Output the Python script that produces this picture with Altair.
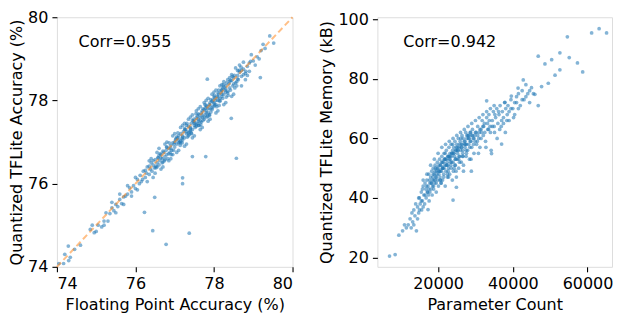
import altair as alt
import pandas as pd

# ---------------- Left panel: accuracy ----------------
fp_acc = [
    74.05, 74.2, 74.3, 74.45, 74.6, 74.85, 74.95, 75.05, 75.2, 75.25, 75.35, 75.4, 75.45, 75.5, 75.55,
    75.6, 75.65, 75.7, 75.75, 75.8, 75.85, 75.9, 75.95, 76.0, 76.05, 76.1, 76.12, 76.18, 76.2, 76.25,
    76.28, 76.3, 76.35, 76.38, 76.4, 76.42, 76.45, 76.48, 76.5, 76.52, 76.55, 76.58, 76.6, 76.62, 76.65,
    76.68, 76.7, 76.72, 76.75, 76.78, 76.8, 76.82, 76.85, 76.88, 76.9, 76.92, 76.95, 76.98, 77.0, 77.02,
    77.05, 77.08, 77.1, 77.12, 77.15, 77.18, 77.2, 77.22, 77.25, 77.28, 77.3, 77.32, 77.35, 77.38, 77.4,
    77.42, 77.45, 77.48, 77.5, 77.52, 77.55, 77.58, 77.6, 77.62, 77.65, 77.68, 77.7, 77.72, 77.75, 77.78,
    77.8, 77.82, 77.85, 77.88, 77.9, 77.92, 77.95, 77.98, 78.0, 78.02, 78.05, 78.08, 78.1, 78.12, 78.15,
    78.18, 78.2, 78.22, 78.25, 78.28, 78.3, 78.35, 78.38, 78.4, 78.45, 78.48, 78.5, 78.55, 78.6, 78.62,
    78.65, 78.7, 78.75, 78.8, 78.85, 78.9, 79.0, 79.1, 79.2, 79.3,
    76.6, 76.7, 76.85, 76.95, 77.05, 77.15, 77.25, 77.35, 77.45, 77.55, 77.6, 77.65, 77.7, 77.75, 77.8,
    77.85, 77.9, 77.95, 78.0, 78.05, 78.1, 78.15, 78.2, 78.25, 78.3, 78.4, 78.5, 78.6, 78.7, 78.75,
    77.5, 77.4, 77.3, 77.2, 77.1, 77.0, 76.9, 76.8, 76.75, 76.65, 76.55, 76.45, 76.35, 76.25, 76.15,
    77.62, 77.82, 77.92, 78.02, 78.12, 78.22, 78.32, 78.42, 78.52, 78.58, 77.42, 77.58, 77.68, 77.78, 77.88,
    76.3, 76.4, 76.5, 76.6, 76.7, 76.8, 76.9, 77.0, 77.1, 77.2, 77.3, 77.4, 77.5, 77.6, 77.7,
    77.8, 77.9, 78.0, 78.1, 78.2, 78.3, 78.4, 78.5, 78.6, 78.7, 78.8, 78.9, 78.55, 78.45, 78.35,
    78.25, 78.15, 78.05, 77.95, 77.85, 77.75, 77.65, 77.55, 77.45, 77.35, 77.25, 77.15, 77.05, 76.95, 76.85,
    76.75, 76.65, 76.55, 76.45, 76.35,
    77.1, 77.2, 77.3, 77.4, 77.5, 77.6, 77.7, 77.8, 77.9, 78.0, 78.1, 78.2, 78.3, 77.15, 77.35,
    77.55, 77.75, 77.95, 78.15, 78.35, 77.25, 77.45, 77.65, 77.85, 78.05, 78.25, 78.45, 78.65, 78.75, 78.85,
    78.95, 79.05, 79.15, 79.25,
    76.52, 76.63, 76.74, 76.86, 76.97, 77.08, 77.19, 77.31, 77.43, 77.54, 77.66, 77.77, 77.89, 78.01, 78.13,
    78.24, 78.36, 78.47, 78.58, 78.69,
    76.57, 76.68, 76.79, 76.91, 77.03, 77.14, 77.26, 77.37, 77.49, 77.61, 77.72, 77.84, 77.96, 78.07, 78.19,
    78.31, 78.42, 78.53, 78.64, 78.81,
    75.3, 75.5, 75.7, 75.9, 76.05, 75.4, 75.6, 75.8, 76.0, 75.2, 75.0, 74.9,
    77.37, 76.78, 76.44, 76.23, 76.49, 77.2, 77.2, 77.45, 77.79, 78.57, 78.44, 77.83, 79.18, 78.93, 79.52,
    79.42, 74.29, 74.34, 74.17, 75.14,
]
q_acc = [
    74.08, 74.3, 74.15, 74.42, 74.52, 74.9, 74.82, 75.0, 75.1, 75.3, 75.28, 75.42, 75.35, 75.5, 75.45,
    75.62, 75.52, 75.68, 75.7, 75.75, 75.9, 75.8, 75.95, 75.88, 76.1, 76.0, 76.2, 76.1, 76.3, 76.15,
    76.25, 76.4, 76.22, 76.35, 76.5, 76.3, 76.45, 76.38, 76.58, 76.42, 76.5, 76.62, 76.45, 76.55, 76.7,
    76.6, 76.52, 76.75, 76.65, 76.8, 76.7, 76.6, 76.85, 76.75, 76.92, 76.8, 76.7, 76.95, 76.88, 77.05,
    76.95, 77.1, 76.98, 77.0, 77.2, 77.08, 77.15, 77.25, 77.1, 77.3, 77.2, 77.12, 77.38, 77.25, 77.35,
    77.45, 77.3, 77.5, 77.4, 77.35, 77.58, 77.45, 77.55, 77.65, 77.5, 77.7, 77.6, 77.52, 77.78, 77.65,
    77.75, 77.85, 77.7, 77.9, 77.8, 77.72, 77.98, 77.85, 77.95, 78.05, 77.9, 78.1, 78.0, 78.15, 78.05,
    78.2, 78.1, 78.3, 78.15, 78.25, 78.35, 78.22, 78.4, 78.3, 78.48, 78.35, 78.55, 78.42, 78.6, 78.5,
    78.68, 78.58, 78.75, 78.65, 78.82, 78.9, 78.95, 79.05, 79.2, 79.25,
    76.68, 76.78, 76.72, 76.98, 77.12, 77.02, 77.32, 77.22, 77.52, 77.42, 77.68, 77.58, 77.75, 77.6, 77.88,
    77.8, 77.95, 77.82, 78.08, 78.0, 78.18, 78.0, 78.25, 78.32, 78.2, 78.45, 78.4, 78.52, 78.72, 78.62,
    77.45, 77.28, 77.4, 77.05, 77.15, 77.0, 76.85, 76.88, 76.58, 76.62, 76.4, 76.55, 76.42, 76.32, 76.05,
    77.4, 77.6, 78.02, 77.88, 78.25, 78.05, 78.42, 78.25, 78.6, 78.45, 77.22, 77.62, 77.48, 77.82, 77.65,
    76.05, 76.6, 76.25, 76.85, 76.4, 77.0, 76.6, 77.2, 76.8, 77.4, 76.95, 77.6, 77.15, 77.8, 77.35,
    78.0, 77.55, 78.2, 77.75, 78.38, 77.95, 78.55, 78.15, 78.72, 78.35, 78.5, 78.7, 78.78, 78.1, 78.5,
    77.9, 78.35, 77.7, 78.15, 77.5, 77.95, 77.3, 77.75, 77.1, 77.55, 76.9, 77.35, 76.75, 77.15, 76.55,
    76.95, 76.35, 76.75, 76.15, 76.55,
    77.05, 77.12, 77.25, 77.32, 77.48, 77.5, 77.65, 77.7, 77.88, 77.92, 78.08, 78.15, 78.28, 76.98, 77.15,
    77.38, 77.55, 77.78, 77.98, 78.18, 77.45, 77.65, 77.85, 78.05, 78.25, 78.45, 78.62, 78.85, 78.92, 78.6,
    79.1, 78.85, 79.0, 79.35,
    76.38, 76.72, 76.55, 76.98, 76.8, 77.22, 76.98, 77.45, 77.2, 77.68, 77.42, 77.9, 77.65, 78.12, 77.88,
    78.38, 78.12, 78.58, 78.35, 78.8,
    76.62, 76.5, 76.88, 76.7, 77.08, 76.92, 77.3, 77.18, 77.55, 77.4, 77.8, 77.62, 78.0, 77.85, 78.25,
    78.08, 78.48, 78.3, 78.72, 78.7,
    75.1, 75.3, 75.5, 75.7, 75.85, 75.55, 75.75, 75.95, 76.15, 75.0, 74.85, 75.0,
    74.81, 74.54, 74.87, 75.31, 75.67, 76.0, 76.14, 76.65, 76.65, 76.61, 77.57, 78.51, 78.55, 78.94, 79.38,
    79.55, 74.5, 74.23, 74.08, 74.96,
]
diag = [74, 80]

# ---------------- Right panel: memory ----------------
params_k = [
    12.0, 12.5, 13.0, 13.2, 13.5, 13.8, 14.0, 14.2, 14.5, 14.8, 15.0, 15.2, 15.5, 15.6, 15.8, 16.0, 16.2,
    16.4, 16.5, 16.7, 16.8, 17.0, 17.1, 17.3, 17.5, 17.6, 17.8, 18.0, 18.1, 18.3, 18.4, 18.5, 18.7, 18.8,
    19.0, 19.1, 19.2, 19.4, 19.5, 19.6, 19.8, 19.9, 20.0, 20.1, 20.2, 20.4, 20.5, 20.6, 20.8, 20.9, 21.0,
    21.1, 21.2, 21.4, 21.5, 21.6, 21.8, 21.9, 22.0, 22.1, 22.2, 22.4, 22.5, 22.6, 22.8, 22.9, 23.0, 23.1,
    23.2, 23.4, 23.5, 23.6, 23.8, 23.9, 24.0, 24.1, 24.2, 24.4, 24.5, 24.6, 24.8, 24.9, 25.0, 25.1, 25.2,
    25.4, 25.5, 25.6, 25.8, 25.9, 26.0, 26.2, 26.4, 26.5, 26.6, 26.8, 27.0, 27.2, 27.4, 27.5, 27.7, 27.9,
    28.0, 28.2, 28.4, 28.6, 28.8, 29.0, 29.2, 29.4, 29.6, 29.8, 30.0, 30.3, 30.6, 30.9, 31.2, 31.5, 31.8,
    32.1, 32.4, 32.7, 33.0, 33.3, 33.6, 33.9, 34.2, 34.5, 34.8, 35.1, 35.4, 35.7, 36.0, 36.3, 36.6, 36.9,
    37.2, 37.5, 37.8, 38.1, 38.4, 38.7, 39.0, 39.5, 40.0, 40.5, 41.0, 41.5, 42.0, 42.5, 43.0, 43.5, 44.0,
    44.5, 45.0,
    19.5, 20.3, 20.7, 21.3, 21.7, 22.3, 22.7, 23.3, 23.7, 24.3, 24.7, 25.3, 25.7, 26.3, 26.7, 27.3, 27.6,
    28.3, 18.2, 18.9, 17.4, 16.9, 19.3, 20.9, 21.9, 22.9, 23.9, 24.9, 26.1, 28.9, 29.9, 31.0, 32.0, 33.2,
    34.0, 35.0, 36.2, 37.0,
    15.5, 16.5, 17.5, 18.5, 19.5, 20.5, 21.5, 22.5, 23.5, 24.5, 25.5, 26.5, 27.5, 28.5, 29.5, 30.5, 31.5,
    32.5, 33.5, 34.5,
    16.0, 17.0, 18.0, 19.0, 20.0, 21.0, 22.0, 23.0, 24.0, 25.0, 26.0, 27.0, 28.0, 29.0, 30.0, 31.0, 32.0,
    33.0, 34.0, 35.0,
    18.6, 19.7, 20.6, 21.6, 22.6, 23.6, 24.6, 25.6, 26.6, 27.6, 28.6, 29.6, 30.6, 31.6,
    19.2, 20.2, 21.2, 22.2, 23.2, 24.2, 25.2, 26.2, 27.2, 28.2,
    17.8, 18.8, 20.8, 22.8, 24.8, 26.8, 28.8, 30.8, 32.8, 35.8,
    36.5, 37.5, 38.5, 39.5, 40.5, 41.5, 42.5, 43.5, 44.5, 45.5, 40.2, 41.0, 39.0, 38.0,
    14.5, 15.0, 16.0, 13.5, 12.8, 15.8, 14.8,
    17.2, 18.2, 19.2, 20.2, 21.2, 22.2, 23.2, 24.2, 25.2, 26.2, 27.2, 28.2, 29.2, 30.2, 31.2, 32.2,
    17.7, 18.7, 19.7, 20.7, 21.7, 22.7, 23.7, 24.7, 25.7, 26.7, 27.7, 28.7, 33.7, 35.2,
    61.1, 63.1, 65.1, 54.6, 46.8, 52.6, 55.1, 50.4, 48.6, 57.3, 58.7, 52.6, 51.3, 49.5, 47.7, 45.9, 46.8,
    42.8, 41.4, 39.6, 37.9, 33.0,
    7.0, 8.5, 9.5, 10.5, 11.0, 11.5, 24.0, 24.9, 28.9, 34.3, 37.0, 17.3,
]
memory_kb = [
    31, 33, 35, 32, 36, 34, 38, 29, 37, 35, 40, 38, 42, 36, 39, 44, 41,
    38, 45, 43, 40, 46, 42, 44, 48, 39, 45, 47, 43, 49, 41, 46, 50, 44,
    48, 45, 51, 47, 42, 49, 52, 46, 50, 44, 48, 53, 47, 51, 45, 49, 54,
    50, 46, 52, 48, 55, 51, 44, 53, 49, 56, 52, 47, 54, 50, 57, 53, 48,
    55, 51, 58, 54, 46, 56, 52, 49, 57, 54, 59, 51, 56, 47, 58, 53, 55,
    60, 50, 57, 54, 59, 56, 52, 61, 58, 55, 49, 59, 57, 62, 54, 60, 56,
    61, 58, 53, 62, 59, 57, 63, 60, 55, 61, 62, 58, 64, 60, 57, 63, 66,
    61, 65, 59, 67, 63, 68, 64, 56, 66, 69, 62, 67, 70, 65, 68, 71, 64,
    69, 67, 72, 70, 66, 71, 69, 73, 70, 68, 72, 75, 71, 76, 73, 78, 75,
    76, 77,
    47, 49, 46, 50, 53, 51, 49, 52, 55, 50, 53, 56, 52, 57, 54, 58, 55,
    60, 45, 46, 41, 44, 50, 52, 55, 54, 58, 57, 60, 61, 59, 62, 64, 65,
    62, 64, 69, 66,
    39, 41, 43, 44, 45, 46, 47, 48, 50, 51, 53, 54, 56, 57, 58, 59, 60,
    62, 63, 64,
    46, 48, 51, 53, 55, 57, 58, 59, 60, 61, 62, 63, 64, 65, 66, 67, 68,
    69, 70, 71,
    47, 48, 49, 50, 51, 52, 53, 54, 56, 58, 59, 60, 61, 62,
    49, 51, 52, 53, 54, 55, 56, 58, 59, 61,
    42, 43, 45, 47, 49, 51, 53, 55, 57, 60,
    63, 65, 68, 70, 72, 70, 73, 74, 72, 75, 67, 74, 66, 62,
    33, 36, 37, 31, 30, 43, 40,
    42, 45, 46, 49, 50, 51, 53, 55, 57, 57, 58, 60, 61, 62, 63, 64,
    46, 48, 50, 51, 53, 54, 55, 56, 58, 60, 61, 62, 66, 68,
    95.4, 96.8, 95.4, 94.1, 87.6, 88.7, 87.1, 86.4, 85.0, 85.3, 82.3, 83.0, 81.2, 78.5, 77.4, 74.8, 71.0,
    79.6, 76.9, 74.2, 72.1, 72.6,
    20.5, 21.0, 27.5, 29.0, 31.0, 30.0, 39.3, 43.6, 49.0, 54.9, 58.1, 36.1,
]

BLUE = "#1f77b4"
FONT = "DejaVu Sans"
FS = 16

acc_df = pd.DataFrame({"fp": fp_acc, "q": q_acc})
diag_df = pd.DataFrame({"fp": diag, "q": diag})
mem_df = pd.DataFrame({"params": [p * 1000 for p in params_k], "mem": memory_kb})

ax_common = dict(grid=False, domain=False, tickColor="black", tickWidth=1.1, tickSize=5,
                 labelColor="black", labelFontSize=FS, titleFontSize=FS, titleFontWeight="normal",
                 titleColor="black", labelPadding=4, labelFont=FONT, titleFont=FONT)

xs_l = alt.Scale(domain=[74, 80], nice=False, zero=False)
ys_l = alt.Scale(domain=[74, 80], nice=False, zero=False)

pts_l = alt.Chart(acc_df).mark_circle(size=14, opacity=0.55, color=BLUE, clip=True).encode(
    x=alt.X("fp:Q", scale=xs_l, axis=alt.Axis(values=[74, 76, 78, 80], title="Floating Point Accuracy (%)", titlePadding=5, **ax_common)),
    y=alt.Y("q:Q", scale=ys_l, axis=alt.Axis(values=[74, 76, 78, 80], title="Quantized TFLite Accuracy (%)", titlePadding=3, **ax_common)),
)
line_l = alt.Chart(diag_df).mark_line(color="#ff7f0e", opacity=0.5, strokeWidth=2, strokeDash=[6, 3.5]).encode(
    x=alt.X("fp:Q", scale=xs_l), y=alt.Y("q:Q", scale=ys_l)
)
txt_l = alt.Chart(pd.DataFrame({"fp": [74.55], "q": [79.4], "t": ["Corr=0.955"]})).mark_text(
    align="left", baseline="middle", fontSize=FS, font=FONT, color="black"
).encode(x=alt.X("fp:Q", scale=xs_l), y=alt.Y("q:Q", scale=ys_l), text="t:N")

left = alt.layer(pts_l, line_l, txt_l).properties(width=236, height=250)

xs_r = alt.Scale(domain=[3750, 66550], nice=False, zero=False)
ys_r = alt.Scale(domain=[16.9, 100.65], nice=False, zero=False)

pts_r = alt.Chart(mem_df).mark_circle(size=14, opacity=0.55, color=BLUE, clip=True).encode(
    x=alt.X("params:Q", scale=xs_r, axis=alt.Axis(values=[20000, 40000, 60000], format="d", title="Parameter Count", titlePadding=5, **ax_common)),
    y=alt.Y("mem:Q", scale=ys_r, axis=alt.Axis(values=[20, 40, 60, 80, 100], title="Quantized TFLite Memory (kB)", titlePadding=3, **ax_common)),
)
txt_r = alt.Chart(pd.DataFrame({"params": [10700], "mem": [92.3], "t": ["Corr=0.942"]})).mark_text(
    align="left", baseline="middle", fontSize=FS, font=FONT, color="black"
).encode(x=alt.X("params:Q", scale=xs_r), y=alt.Y("mem:Q", scale=ys_r), text="t:N")

right = alt.layer(pts_r, txt_r).properties(width=235, height=250)

chart = alt.hconcat(left, right, spacing=20).properties(
    padding={"left": 0, "top": 0, "right": 0, "bottom": 0}
).configure_view(stroke="black", strokeWidth=1.1).configure(font=FONT)

chart.save("out.html", embed_options={"renderer": "svg", "actions": False})
